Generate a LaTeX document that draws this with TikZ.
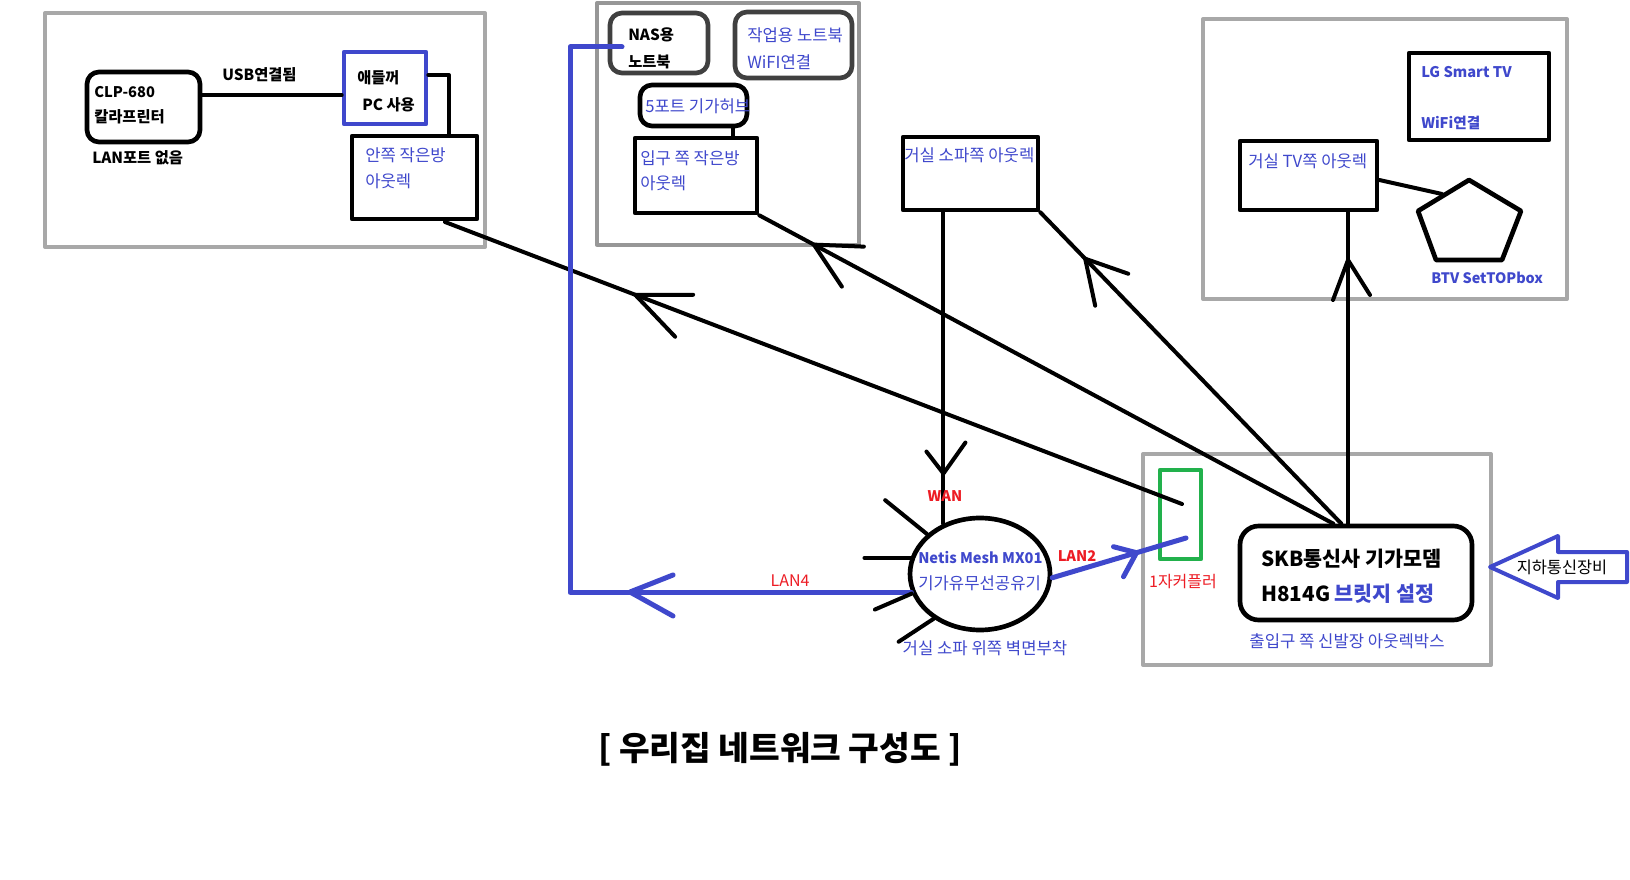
\documentclass[tikz,border=0pt]{standalone}
\usepackage{fontspec}
\setmainfont{Noto Sans CJK KR}
\usetikzlibrary{fit, calc, shapes.geometric}

\definecolor{paintblue}{HTML}{3F48CC}
\definecolor{paintred}{HTML}{ED1C24}
\definecolor{paintgreen}{HTML}{22B14C}
\definecolor{roomgray}{HTML}{A8A8A8}
\definecolor{devgray}{HTML}{404040}

\begin{document}
\begin{tikzpicture}[x=0.75pt, y=-0.75pt, line join=round, line cap=round,
    room/.style={draw=roomgray, line width=3pt, inner sep=0pt},
    box/.style={draw=black, line width=3.5pt, inner sep=0pt},
    wire/.style={black, line width=3pt},
    lanwire/.style={paintblue, line width=3.75pt},
    lbl/.style={inner sep=0pt, anchor=west, font=\fontsize{11.5}{13}\selectfont\bfseries},
    bluelbl/.style={inner sep=0pt, anchor=west, text=paintblue, font=\fontsize{12.5}{14}\selectfont},
    redlbl/.style={inner sep=0pt, text=paintred, font=\fontsize{12}{14}\selectfont}]
    \fill[white] (0,0) rectangle (1630,880);
    \useasboundingbox (0,0) rectangle (1630,880);

    % Rooms
    \node[room, fit={(45,13) (485,247)}] (roomKids) {};
    \node[room, line width=2.5pt, draw=roomgray!90!black, fit={(597,3) (859,245)}] (roomEntry) {};
    \node[room, fit={(1203,19) (1567,299)}] (roomLiving) {};
    \node[room, fit={(1143,454) (1491,665)}] (roomShoe) {};

    % Devices and outlets
    \node[box, rounded corners=9pt, fit={(87,72) (200,142)}] (clp) {};
    \node[box, draw=paintblue, fit={(344,52) (426,124)}] (kids) {};
    \node[box, fit={(352,136) (477,219)}] (innerOut) {};
    \node[box, draw=devgray, rounded corners=9pt, fit={(610,13) (708,73)}] (nas) {};
    \node[box, draw=devgray, rounded corners=9pt, fit={(735,12) (852,78)}] (work) {};
    \node[box, rounded corners=9pt, fit={(640,85) (747,126)}] (hub) {};
    \node[box, fit={(635,138) (757,213)}] (entryOut) {};
    \node[box, fit={(903,137) (1038,210)}] (sofaOut) {};
    \node[box, fit={(1409,53) (1549,140)}] (tv) {};
    \node[box, fit={(1240,141) (1377,210)}] (tvOut) {};
    \node[box, rounded corners=14pt, fit={(1240,526) (1472,620)}] (modem) {};
    \node[box, draw=paintgreen, fit={(1160,470) (1201,559)}] (coupler) {};
    \node[box, ellipse, minimum width=105pt, minimum height=84pt] (router) at (980,574) {};
    \draw[box, line cap=butt] (1469,180) -- (1521,211) -- (1502,260) -- (1436,260) -- (1418,211) -- cycle;
    \coordinate (stb) at (1442,194);

    % Ports
    \coordinate (usbY) at (0,95);
    \coordinate (kidsPlug) at (449,75);
    \coordinate (hubDrop) at (733,0);
    \coordinate (innerTail) at (445,222);
    \coordinate (couplerIn) at (1182,504);
    \coordinate (couplerOut) at (1186,538);
    \coordinate (lanBend) at (570,47);
    \coordinate (nasFeed) at (622,47);

    % Cables
    \draw[wire] (clp.east |- usbY) -- (kids.west |- usbY);
    \draw[wire] (kids.east |- kidsPlug) -- (kidsPlug) -- (kidsPlug |- innerOut.north);
    \draw[wire] (hub.south -| hubDrop) -- (entryOut.north -| hubDrop);
    \draw[wire] (tvOut.east |- 0,180) -- (stb);
    \draw[wire] (innerTail) -- (couplerIn);
    \draw[wire] (entryOut.south east) -- ([xshift=-17pt]modem.north);
    \draw[wire] (sofaOut.south east) -- ([xshift=-11pt]modem.north);
    \draw[wire] ([xshift=-6pt]modem.north) -- ([xshift=-6pt]modem.north |- tvOut.south);
    \draw[wire] (router.126 |- sofaOut.south) -- (router.126);
    \draw[lanwire] (router.-3) -- (couplerOut);
    \draw[lanwire] (router.195) -| (lanBend) -- (nasFeed);

    % Hand drawn heads
    \coordinate (headInner) at ($(innerTail)!0.258!(couplerIn)$);
    \draw[wire] (headInner) ++(58,0) -- (headInner) -- ++(40,42);
    \coordinate (headEntry) at ($(entryOut.south east)!0.095!([xshift=-17pt]modem.north)$);
    \draw[wire] (headEntry) ++(50,2) -- (headEntry) -- ++(28,42);
    \coordinate (headSofa) at ($(sofaOut.south east)!0.149!([xshift=-11pt]modem.north)$);
    \draw[wire] (headSofa) ++(43,15) -- (headSofa) -- ++(10,47);
    \coordinate (headTv) at (1348,260);
    \draw[wire] (headTv) ++(-15,40) -- (headTv) -- ++(22,35);
    \coordinate (headWan) at ($(router.126 |- sofaOut.south)!0.839!(router.126)$);
    \draw[wire] (headWan) ++(-17,-22) -- (headWan) -- ++(22,-31);
    \coordinate (headLan2) at ($(router.-3)!0.63!(couplerOut)$);
    \draw[lanwire] (headLan2) ++(-23,-6) -- (headLan2) -- ++(-13,24);
    \coordinate (headLan4) at (630,592);
    \draw[lanwire] (headLan4) ++(43,-17) -- (headLan4) -- ++(43,24);

    % Router antennas
    \draw[wire] (router.143) -- ++(-42,-34);
    \draw[wire] (router.167) -- ++(-46,0);
    \draw[wire] (router.196) -- ++(-37,16);
    \draw[wire] (router.224) -- ++(-35,23);

    % Incoming line
    \draw[paintblue, line width=3pt] (1490,567) -- (1558,536) -- (1558,552) -- (1627,552)
        -- (1627,582) -- (1558,582) -- (1558,598) -- cycle;

    % Labels
    \node[lbl, font=\fontsize{11}{13}\selectfont\bfseries] (clpName) at (94,92) {CLP-680};
    \node[lbl] (clpKind) at (94,117) {칼라프린터};
    \node[lbl] (clpNote) at (92,158) {LAN포트 없음};
    \node[lbl] (usbTxt) at (222,75) {USB연결됨};
    \node[lbl] (kidsTxtA) at (357,78) {애들꺼};
    \node[lbl] (kidsTxtB) at (362,105) {PC 사용};
    \node[bluelbl] (innerTxtA) at (365,155) {안쪽 작은방};
    \node[bluelbl] (innerTxtB) at (365,181) {아웃렉};
    \node[lbl] (nasTxtA) at (628,35) {NAS용};
    \node[lbl] (nasTxtB) at (628,62) {노트북};
    \node[bluelbl] (workTxtA) at (747,35) {작업용 노트북};
    \node[bluelbl] (workTxtB) at (747,62) {WiFI연결};
    \node[bluelbl] (hubTxt) at (645,106) {5포트 기가허브};
    \node[bluelbl] (entryTxtA) at (640,158) {입구 쪽 작은방};
    \node[bluelbl] (entryTxtB) at (640,183) {아웃렉};
    \node[bluelbl] (sofaTxt) at (904,155) {거실 소파쪽 아웃렉};
    \node[bluelbl, font=\fontsize{11}{13}\selectfont\bfseries] (tvTxtA) at (1421,72) {LG Smart TV};
    \node[bluelbl, font=\fontsize{11}{13}\selectfont\bfseries] (tvTxtB) at (1421,123) {WiFi연결};
    \node[bluelbl] (tvOutTxt) at (1248,161) {거실 TV쪽 아웃렉};
    \node[bluelbl, font=\fontsize{10.8}{13}\selectfont\bfseries] (stbTxt) at (1431,278) {BTV SetTOPbox};
    \node[redlbl, font=\fontsize{11}{13}\selectfont\bfseries] (wanTxt) at (945,496) {WAN};
    \node[bluelbl, font=\fontsize{11}{13}\selectfont\bfseries] (routerTxtA) at (918,558) {Netis Mesh MX01};
    \node[bluelbl] (routerTxtB) at (918,583) {기가유무선공유기};
    \node[bluelbl, anchor=center] (routerNote) at (985,648) {거실 소파 위쪽 벽면부착};
    \node[redlbl, font=\fontsize{11}{13}\selectfont\bfseries] (lanTwoTxt) at (1077,556) {LAN2};
    \node[redlbl] (lanFourTxt) at (790,581) {LAN4};
    \node[redlbl] (couplerTxt) at (1183,582) {1자커플러};
    \node[lbl, font=\fontsize{15.5}{18}\selectfont\bfseries] (modemTxtA) at (1261,559) {SKB통신사 기가모뎀};
    \node[lbl, font=\fontsize{15.5}{18}\selectfont\bfseries] (modemTxtB) at (1261,594) {H814G \textcolor{paintblue}{브릿지 설정}};
    \node[bluelbl, anchor=center] (shoeTxt) at (1347,641) {출입구 쪽 신발장 아웃렉박스};
    \node[inner sep=0pt, font=\fontsize{12.3}{14}\selectfont] (feedTxt) at (1562,567) {지하통신장비};

    % Title
    \node[inner sep=0pt, font=\fontsize{25}{30}\selectfont\bfseries] (title) at (780,749) {[ 우리집 네트워크 구성도 ]};
\end{tikzpicture}
\end{document}
